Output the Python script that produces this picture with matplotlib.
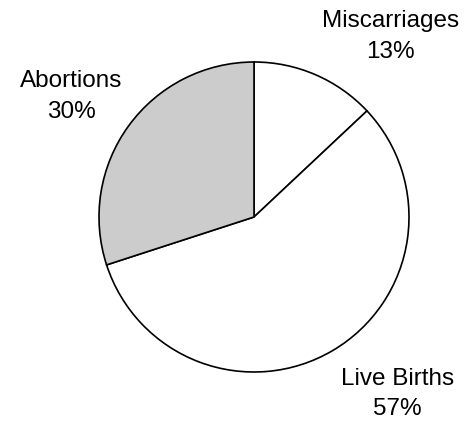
import matplotlib.pyplot as plt
import numpy as np

plt.rcParams['font.family'] = ['Liberation Sans', 'DejaVu Sans']

labels = ['Miscarriages', 'Live Births', 'Abortions']
values = [13, 57, 30]
colors = ['white', 'white', '#cccccc']

fig = plt.figure(figsize=(4.71, 4.21), dpi=100)
ax = fig.add_axes([(254 - 155) / 471, (421 - 217 - 155) / 421, 310 / 471, 310 / 421])

wedges, texts = ax.pie(values, colors=colors, startangle=90, counterclock=False,
                       wedgeprops=dict(edgecolor='black', linewidth=1.2),
                       labels=[f'{l}\n{v}%' for l, v in zip(labels, values)],
                       labeldistance=1.45,
                       textprops=dict(fontsize=17.5, ha='center', va='center', linespacing=1.5))

# Excel-style label positions (angle in degrees, distance in radii)
label_pos = [(53, 1.46), (-51, 1.47), (146.6, 1.41)]
for t, (ang, d) in zip(texts, label_pos):
    a = np.deg2rad(ang)
    t.set_position((d * np.cos(a), d * np.sin(a)))
    t.set_ha('center')
    t.set_va('center')

ax.set_xlim(-1, 1)
ax.set_ylim(-1, 1)
ax.set_aspect('equal')
ax.axis('off')

fig.savefig('out.png', dpi=100)
